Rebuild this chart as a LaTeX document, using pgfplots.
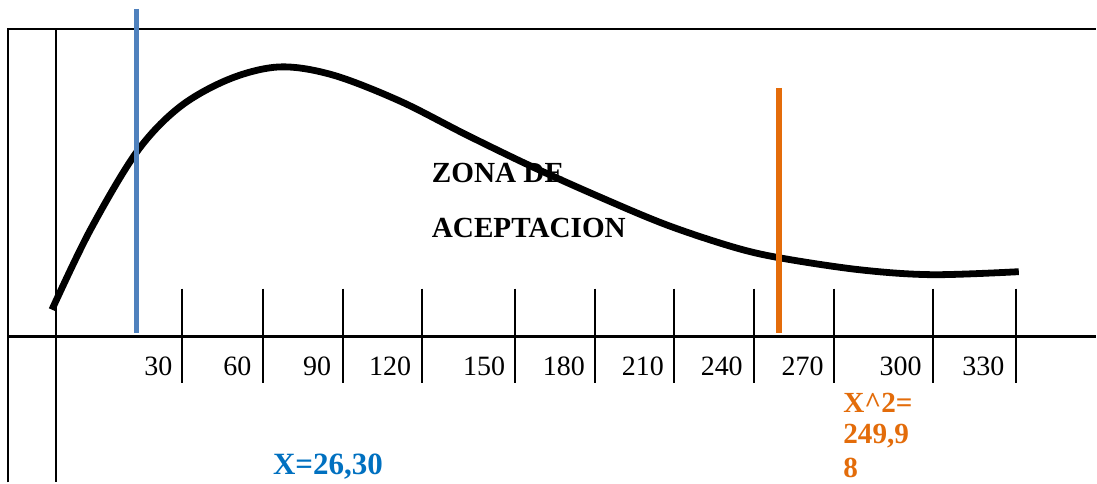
\documentclass[border=0pt]{standalone}
\usepackage{pgfplots}
\pgfplotsset{compat=1.18}
\usepackage{fontspec}
\setmainfont{Liberation Serif}
\definecolor{lineblue}{HTML}{4F81BD}
\definecolor{lineorange}{HTML}{E46C0A}
\definecolor{txtblue}{HTML}{0070C0}
\definecolor{txtorange}{HTML}{E36C0A}
\begin{document}
\begin{tikzpicture}
\begin{axis}[
  scale only axis, width=548.5pt, height=241.5pt,
  xmin=0, xmax=1097, ymin=0, ymax=483, y dir=reverse,
  hide axis, clip=false,
  unbounded coords=jump,
]
% invisible frame for the bounding box
\addplot[draw=none] coordinates {(0,0) (1097,483)};
% frame and axes
\addplot[black, line width=1.3pt] coordinates {(8,483) (8,29) (1097,29)};
\addplot[black, line width=1.3pt] coordinates {(56,29) (56,483)};
\addplot[black, line width=1.3pt] coordinates {(8,337) (1097,337)};
% tick lines
\addplot[black, line width=1pt] coordinates {
 (182,289) (182,383) (182,nan)
 (263,289) (263,383) (263,nan)
 (343,289) (343,383) (343,nan)
 (422,289) (422,383) (422,nan)
 (516,289) (516,383) (516,nan)
 (596,289) (596,383) (596,nan)
 (675,289) (675,383) (675,nan)
 (755,289) (755,383) (755,nan)
 (835,289) (835,383) (835,nan)
 (934,289) (934,383) (934,nan)
 (1017,289) (1017,383)
};
% curve
\addplot[black, line width=3.4pt, smooth, tension=0.55] coordinates {
 (52,310) (90,231) (137,152) (180,107) (230,79) (280,67) (333,75)
 (400,101) (467,135) (533,167) (600,197) (667,225) (733,247) (780,258)
 (860,270) (933,275) (1020,272)
};
% critical lines
\addplot[lineblue, line width=2.6pt] coordinates {(137,9) (137,333)};
\addplot[lineorange, line width=2.6pt] coordinates {(780,88) (780,333)};
% labels
\begin{scope}[every node/.style={font=\fontsize{14}{16}\selectfont, inner sep=0pt, anchor=east}]
\node at (axis cs:173,367) {30};
\node at (axis cs:252,367) {60};
\node at (axis cs:332,367) {90};
\node at (axis cs:412,367) {120};
\node at (axis cs:506,367) {150};
\node at (axis cs:586,367) {180};
\node at (axis cs:665,367) {210};
\node at (axis cs:744,367) {240};
\node at (axis cs:825,367) {270};
\node at (axis cs:923,367) {300};
\node at (axis cs:1006,367) {330};
\end{scope}
\node[font=\fontsize{14.6}{17}\selectfont\bfseries, inner sep=0pt, anchor=west] at (axis cs:432,173) {ZONA DE};
\node[font=\fontsize{14.6}{17}\selectfont\bfseries, inner sep=0pt, anchor=west] at (axis cs:432,228) {ACEPTACION};
\node[font=\fontsize{15.5}{18}\selectfont\bfseries, text=txtblue, inner sep=0pt, anchor=west] at (axis cs:273,467) {X=26,30};
\node[font=\fontsize{14.6}{17}\selectfont\bfseries, text=txtorange, inner sep=0pt, anchor=west] at (axis cs:844,403) {X\^{}2=};
\node[font=\fontsize{14.6}{17}\selectfont\bfseries, text=txtorange, inner sep=0pt, anchor=west] at (axis cs:844,437) {249,9};
\node[font=\fontsize{14.6}{17}\selectfont\bfseries, text=txtorange, inner sep=0pt, anchor=west] at (axis cs:844,468) {8};
\end{axis}
\end{tikzpicture}
\end{document}
